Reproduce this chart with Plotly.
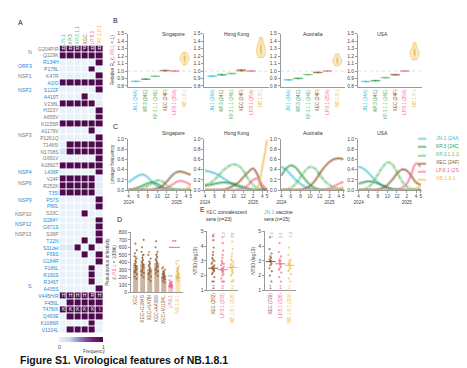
import plotly.graph_objects as go

W, H = 467, 368
FONT = "Arial, 'Liberation Sans', sans-serif"


def fx(x):
    return x / W


def fy(y):
    return 1 - y / H


def rgba(hexc, a):
    h = hexc.lstrip('#')
    return f"rgba({int(h[0:2],16)},{int(h[2:4],16)},{int(h[4:6],16)},{a})"


def span(text, color):
    return f"<span style='color:{color}'>{text}</span>"


# ---------------- colours ----------------
C_JN1, C_KP3, C_KP311, C_XEC, C_LP81, C_NB = "#3fc1d9", "#2e9d4f", "#5cbf6e", "#8f5a2a", "#f26d92", "#eebf5b"
lin_colors = [C_JN1, C_KP3, C_KP311, C_XEC, C_LP81, C_NB]
BLUE, GRAY = "#2a8bd0", "#7a7a7a"

# ---------------- Panel A data ----------------
heat_lineages = ["JN.1", "KP.3", "KP.3.1.1", "XEC", "LP.8.1", "NB.1.8.1"]
mutations = ["G204P/R", "Q229K", "R134H", "P178L", "K47R", "A3/D", "S122F", "A419T",
             "V238L", "H323Y", "A655V", "K1155R", "A1179V", "P1261Q", "T1465I", "N1708S",
             "I1691V", "A1892T", "L438F", "V24F", "R252K", "T35I", "P57S", "P80L", "S33C",
             "D284Y", "G671S", "S36P", "T22N", "S31del", "F59S", "G184R", "F186L", "R190S",
             "R346T", "A435S", "V445H/R", "F456L", "T478/K", "Q493E", "K1086R", "V1104L"]
genes = ["N", "ORF3", "NSP1", "NSP2", "NSP3", "NSP4", "NSP6", "NSP9", "NSP10", "NSP12", "NSP13", "S"]
gene_first_row = [0, 2, 4, 5, 8, 18, 19, 21, 24, 25, 27, 28]
gene_last_row = [1, 3, 4, 7, 17, 18, 20, 23, 24, 26, 27, 41]
gene_is_blue = [False, True, False, True, False, True, False, True, False, True, False, True]
freq = [
    [1, 1, 1, 1, 1, 1],
    [1, 1, 1, 1, 1, 1],
    [0, 0, 0, 0, 0, 1],
    [0, 0, 0, 0, 1, 0],
    [0, 0, 0, 0, 0, 1],
    [1, 1, 1, 1, 1, 1],
    [0, 0, 0, 0, 0, 1],
    [0, 0, 0, 1, 0, 0],
    [1, 1, 1, 1, 1, 0.05],
    [0, 0, 0, 0, 0, 1],
    [0, 0, 0, 0, 0, 1],
    [1, 1, 1, 1, 1, 1],
    [0, 0, 0, 0, 1, 0],
    [0, 0, 0, 0, 0, 1],
    [0, 1, 1, 1, 1, 1],
    [0.15, 1, 1, 1, 1, 1],
    [0, 0, 0, 0, 0, 1],
    [1, 1, 1, 1, 1, 1],
    [0, 0, 0, 0, 0, 1],
    [1, 1, 1, 1, 1, 0.05],
    [1, 1, 1, 1, 1, 0.05],
    [1, 1, 1, 1, 1, 0.05],
    [0, 0, 0, 0, 0, 1],
    [0, 0, 0, 0, 0, 1],
    [0, 0, 0, 1, 0, 0],
    [0, 0, 0, 0, 0, 1],
    [0, 0, 0, 0, 0, 1],
    [0, 0, 0, 0, 0, 1],
    [0, 0, 0, 1, 0, 1],
    [0.1, 0.1, 1, 0, 1, 0],
    [0, 0, 0, 1, 0, 1],
    [0, 0, 0, 0, 0, 1],
    [0, 0, 0, 0, 1, 0],
    [0, 0, 0, 0, 1, 0],
    [0, 0, 0, 0, 1, 0],
    [0, 0, 0, 0, 0, 1],
    [1, 1, 1, 1, 1, 1],
    [0, 1, 1, 1, 1, 1],
    [1, 1, 1, 1, 1, 1],
    [0, 1, 1, 1, 1, 1],
    [0, 0, 0, 0, 1, 0],
    [0, 1, 1, 1, 1, 0],
]
cell_letters_row0 = ["R", "R", "R", "P", "R", "R"]
cell_letters_row36 = ["H", "H", "H", "H", "R", "H"]
cell_letters_row38 = ["K", "K", "K", "K", "K", "I"]

# ---------------- Panel B data ----------------
countries = ["Singapore", "Hong Kong", "Australia", "USA"]
lineage_labels = ["JN.1 (24A)", "KP.3 (24C)", "KP.3.1.1 (24E)", "XEC (24F)", "LP.8.1 (25A)", "NB.1.8.1"]
re_singapore = [[0.857, 0.861, 0.864, 0.866], [0.887, 0.891, 0.893, 0.896], [0.926, 0.93, 0.932, 0.935],
                [1.0, 1.004, 1.007, 1.012], [0.997, 1.0, 1.003], [1.08, 1.13, 1.16, 1.17, 1.18, 1.21, 1.25]]
re_hongkong = [[0.925, 0.93, 0.933, 0.937], [0.944, 0.949, 0.952, 0.956], [0.96, 0.965, 0.968, 0.972],
               [1.0, 1.007, 1.011, 1.018], [0.997, 1.0, 1.003], [1.18, 1.23, 1.26, 1.28, 1.31, 1.36, 1.45]]
re_australia = [[0.877, 0.881, 0.884, 0.887], [0.896, 0.9, 0.903, 0.906], [0.947, 0.951, 0.953, 0.956],
                [0.975, 0.979, 0.982, 0.986], [0.997, 1.0, 1.003], [1.07, 1.1, 1.13, 1.14, 1.15, 1.18, 1.23]]
re_usa = [[0.855, 0.859, 0.862, 0.865], [0.866, 0.87, 0.873, 0.876], [0.906, 0.91, 0.913, 0.916],
          [0.945, 0.949, 0.952, 0.956], [0.997, 1.0, 1.003], [1.15, 1.2, 1.23, 1.24, 1.26, 1.3, 1.38]]
re_all = [re_singapore, re_hongkong, re_australia, re_usa]

# ---------------- Panel C data ----------------
months = ["2024-04-01", "2024-05-01", "2024-06-01", "2024-07-01", "2024-08-01", "2024-09-01", "2024-10-01",
          "2024-11-01", "2024-12-01", "2025-01-01", "2025-02-01", "2025-03-01", "2025-04-01", "2025-05-01"]
freq_singapore = [
    [0.15, 0.22, 0.28, 0.30, 0.25, 0.15, 0.07, 0.03, 0.01, 0, 0, 0, 0, 0],
    [0.0, 0.02, 0.05, 0.09, 0.13, 0.15, 0.12, 0.06, 0.02, 0.01, 0, 0, 0, 0],
    [0, 0, 0.01, 0.03, 0.08, 0.14, 0.19, 0.17, 0.09, 0.03, 0.01, 0, 0, 0],
    [0, 0, 0, 0, 0, 0.01, 0.03, 0.08, 0.17, 0.28, 0.35, 0.36, 0.33, 0.30],
    [0, 0, 0, 0, 0, 0, 0, 0.01, 0.04, 0.10, 0.16, 0.18, 0.15, 0.10],
    [0, 0, 0, 0, 0, 0, 0, 0, 0, 0, 0, 0, 0.02, 0.08],
]
freq_hongkong = [
    [0.38, 0.36, 0.33, 0.28, 0.22, 0.16, 0.10, 0.06, 0.03, 0.01, 0, 0, 0, 0],
    [0.08, 0.10, 0.12, 0.14, 0.15, 0.14, 0.12, 0.09, 0.06, 0.03, 0.01, 0, 0, 0],
    [0.10, 0.13, 0.20, 0.30, 0.40, 0.47, 0.50, 0.47, 0.38, 0.22, 0.10, 0.03, 0.01, 0],
    [0, 0, 0, 0, 0.01, 0.04, 0.09, 0.15, 0.25, 0.35, 0.42, 0.30, 0.05, 0.0],
    [0, 0, 0, 0, 0, 0, 0, 0.01, 0.04, 0.10, 0.20, 0.22, 0.10, 0.01],
    [0, 0, 0, 0, 0, 0, 0, 0, 0, 0, 0, 0.05, 0.45, 0.98],
]
freq_australia = [
    [0.45, 0.40, 0.30, 0.20, 0.12, 0.06, 0.03, 0.01, 0, 0, 0, 0, 0, 0],
    [0.28, 0.42, 0.48, 0.44, 0.32, 0.20, 0.10, 0.04, 0.01, 0, 0, 0, 0, 0],
    [0, 0.01, 0.04, 0.12, 0.25, 0.38, 0.45, 0.42, 0.30, 0.18, 0.10, 0.05, 0.02, 0.01],
    [0, 0, 0, 0, 0.01, 0.03, 0.08, 0.18, 0.32, 0.45, 0.55, 0.60, 0.62, 0.60],
    [0, 0, 0, 0, 0, 0, 0, 0, 0, 0.01, 0.03, 0.07, 0.12, 0.16],
    [0, 0, 0, 0, 0, 0, 0, 0, 0, 0, 0, 0.01, 0.03, 0.06],
]
freq_usa = [
    [0.46, 0.42, 0.34, 0.24, 0.15, 0.08, 0.04, 0.02, 0.01, 0, 0, 0, 0, 0],
    [0.12, 0.15, 0.17, 0.16, 0.13, 0.09, 0.05, 0.02, 0.01, 0, 0, 0, 0, 0],
    [0, 0.01, 0.05, 0.15, 0.30, 0.45, 0.54, 0.50, 0.35, 0.18, 0.07, 0.02, 0, 0],
    [0, 0, 0, 0, 0.01, 0.04, 0.10, 0.20, 0.32, 0.40, 0.38, 0.28, 0.15, 0.10],
    [0, 0, 0, 0, 0, 0, 0, 0, 0.01, 0.04, 0.12, 0.30, 0.52, 0.45],
    [0, 0, 0, 0, 0, 0, 0, 0, 0, 0, 0, 0.01, 0.03, 0.08],
]
freq_all = [freq_singapore, freq_hongkong, freq_australia, freq_usa]
month_tickvals = ["2024-04-01", "2024-06-01", "2024-08-01", "2024-10-01", "2024-12-01",
                  "2025-02-01", "2025-04-01", "2025-05-01"]
month_ticktext = ["4<br>2024", "6", "8", "10", "12", "2<br>2025", "4", "5"]

# ---------------- Panel D data ----------------
d_labels = ["XEC", "XEC+G184S", "XEC+K478I", "XEC+A435S", "XEC+V1104L", "LP.8.1", "NB.1.8.1"]
d_means = [365, 380, 310, 390, 225, 105, 255]
d_sd = [110, 120, 100, 120, 50, 30, 65]
d_points = [
    [180, 210, 240, 270, 290, 310, 330, 350, 360, 380, 400, 420, 450, 480, 520, 560, 650],
    [200, 230, 260, 280, 300, 330, 350, 370, 390, 410, 430, 460, 500, 540, 600, 700],
    [150, 180, 210, 240, 260, 280, 300, 320, 340, 360, 380, 410, 450, 500],
    [220, 250, 280, 300, 330, 350, 380, 400, 420, 440, 470, 500, 540, 600, 680],
    [130, 150, 170, 190, 200, 210, 220, 230, 240, 250, 260, 280, 300, 320],
    [60, 70, 80, 85, 90, 95, 100, 105, 110, 115, 120, 130, 140, 160],
    [150, 170, 190, 210, 230, 240, 250, 260, 270, 290, 310, 330, 350, 380],
]
d_colors = [C_XEC, C_XEC, C_XEC, C_XEC, C_XEC, C_LP81, C_NB]

# ---------------- Panel E data ----------------
e_labels_1 = ["XEC (282)", "LP.8.1 (233)", "NB.1.8.1 (226)"]
e_labels_2 = ["XEC (729)", "LP.8.1 (326)", "NB.1.8.1 (229)"]
e_colors = [C_XEC, C_LP81, C_NB]
e_points_1 = [
    [1.6, 1.6, 1.9, 2.1, 2.2, 2.3, 2.4, 2.4, 2.5, 2.5, 2.6, 2.6, 2.7, 2.8, 2.9, 3.0, 3.1, 3.2, 3.4, 3.6, 3.9, 4.4, 4.7],
    [1.6, 1.6, 1.6, 1.8, 2.0, 2.1, 2.2, 2.3, 2.3, 2.4, 2.5, 2.5, 2.6, 2.7, 2.8, 2.8, 2.9, 3.0, 3.2, 3.4, 3.7, 4.2, 4.6],
    [1.6, 1.6, 1.7, 2.0, 2.1, 2.2, 2.3, 2.4, 2.5, 2.5, 2.6, 2.6, 2.7, 2.7, 2.8, 2.9, 3.0, 3.1, 3.3, 3.5, 3.8, 4.3, 4.7],
]
e_points_2 = [
    [1.6, 2.0, 2.3, 2.5, 2.7, 2.8, 2.9, 3.0, 3.0, 3.1, 3.2, 3.3, 3.5, 3.8, 4.6],
    [1.6, 1.9, 2.2, 2.4, 2.5, 2.6, 2.7, 2.8, 2.9, 3.0, 3.0, 3.1, 3.3, 3.6, 4.2],
    [1.6, 1.8, 2.1, 2.3, 2.4, 2.5, 2.6, 2.7, 2.8, 2.8, 2.9, 3.0, 3.1, 3.4, 3.9],
]
e_medians_1 = [2.5, 2.4, 2.55]
e_medians_2 = [2.95, 2.8, 2.7]
e_fold_1 = ["1.0", "1.2", "1.2"]
e_fold_2 = ["1.0", "2.2", "3.2"]
e_below_1 = ["2", "3", "2"]
e_below_2 = ["1", "1", "1"]

# ---------------- layout geometry (pixels) ----------------
B_X = [(117, 182), (194, 259), (271, 336), (349, 414)]

fig = go.Figure()
annotations = []
shapes = []

AX = dict(showgrid=False, zeroline=False, showline=True, linecolor="#9a9a9a", linewidth=0.8,
          ticks="outside", ticklen=2, tickwidth=0.6, tickcolor="#9a9a9a",
          tickfont=dict(size=5, color="#444"))

# ================= Panel A: heatmap =================
cell_text = [["" for _ in heat_lineages] for _ in mutations]
cell_text[0] = cell_letters_row0
cell_text[36] = cell_letters_row36
cell_text[38] = cell_letters_row38
heat_scale = [[0, "#e9f2f9"], [0.25, "#c4d8ec"], [0.5, "#8c79b8"], [0.75, "#7a1f7a"], [1, "#4d0a4f"]]
fig.add_trace(go.Heatmap(
    z=freq, x=heat_lineages, y=mutations, text=cell_text, texttemplate="%{text}",
    textfont=dict(size=5, color="white"), colorscale=heat_scale, zmin=0, zmax=1,
    xgap=1, ygap=1, xaxis="x", yaxis="y", hoverinfo="skip",
    colorbar=dict(orientation="h", x=fx(70), xanchor="center", y=fy(331), yanchor="top",
                  len=44, lenmode="pixels", thickness=5, xpad=0, ypad=0,
                  tickvals=[0, 1], ticktext=["0", "1"], ticks="", outlinewidth=0,
                  tickfont=dict(size=5, color="#444"))))

mut_color = []
for i in range(len(mutations)):
    for g in range(len(genes)):
        if gene_first_row[g] <= i <= gene_last_row[g]:
            mut_color.append(BLUE if gene_is_blue[g] else GRAY)
fig.update_layout(
    xaxis=dict(domain=[fx(48), fx(92)], anchor="y", side="top", tickangle=-90,
               tickvals=heat_lineages, ticktext=[span(l, c) for l, c in zip(heat_lineages, lin_colors)],
               tickfont=dict(size=5), showline=False, ticks="", showgrid=False, zeroline=False),
    yaxis=dict(domain=[fy(328), fy(35)], anchor="x", autorange="reversed",
               tickvals=mutations, ticktext=[span(m, c) for m, c in zip(mutations, mut_color)],
               tickfont=dict(size=5), showline=False, ticks="", showgrid=False, zeroline=False),
)
for g in range(len(genes)):
    annotations.append(dict(x=fx(22), xref="paper", xanchor="right",
                            y=(gene_first_row[g] + gene_last_row[g]) / 2, yref="y", yanchor="middle",
                            text=genes[g], showarrow=False,
                            font=dict(size=5.2, color=BLUE if gene_is_blue[g] else GRAY)))
annotations.append(dict(x=fx(70), y=fy(342), xref="paper", yref="paper", text="Frequency",
                        showarrow=False, font=dict(size=4.6, color="#444"), yanchor="top"))

# ================= Panel B: violins =================
for ci, country in enumerate(countries):
    n = 2 + ci
    for li in range(6):
        vals = re_all[ci][li]
        fig.add_trace(go.Violin(
            x=[lineage_labels[li]] * len(vals), y=vals, xaxis=f"x{n}", yaxis=f"y{n}",
            line=dict(color=lin_colors[li], width=0.6), fillcolor=rgba(lin_colors[li], 0.35),
            width=0.95, spanmode="hard", points=False, scalemode="width",
            box=dict(visible=True, width=0.15, fillcolor=lin_colors[li], line=dict(width=0.4, color=lin_colors[li])),
            showlegend=False, hoverinfo="skip"))
    x0, x1 = B_X[ci]
    fig.update_layout(**{
        f"xaxis{n}": dict(AX, domain=[fx(x0), fx(x1)], anchor=f"y{n}", type="category",
                          categoryorder="array", categoryarray=lineage_labels,
                          tickvals=lineage_labels, ticktext=[span(l, c) for l, c in zip(lineage_labels, lin_colors)],
                          tickangle=-90, ticks="", tickfont=dict(size=4.6)),
        f"yaxis{n}": dict(AX, domain=[fy(77), fy(23)], anchor=f"x{n}", range=[0.79, 1.5], dtick=0.1,
                          tickformat=".1f",
                          title=dict(text="Relative R<sub>e</sub> (" + span("LP.8.1", C_LP81) + " = 1)",
                                     font=dict(size=4.8), standoff=2) if ci == 0 else None),
    })
    shapes.append(dict(type="line", xref=f"x{n} domain", yref=f"y{n}", x0=0, x1=1, y0=1, y1=1,
                       line=dict(color="#c8c8c8", width=0.6, dash="dot"), layer="below"))
    annotations.append(dict(x=fx((x0 + x1) / 2), y=fy(18), xref="paper", yref="paper", text=country,
                            showarrow=False, font=dict(size=5, color="#333")))

# ================= Panel C: lineage frequency =================
for ci, country in enumerate(countries):
    n = 6 + ci
    for li in range(6):
        vals = freq_all[ci][li]
        fig.add_trace(go.Scatter(x=months, y=vals, xaxis=f"x{n}", yaxis=f"y{n}", mode="lines",
                                 line=dict(color=rgba(lin_colors[li], 0.35), width=3.2, shape="spline"),
                                 showlegend=False, hoverinfo="skip"))
        fig.add_trace(go.Scatter(x=months, y=vals, xaxis=f"x{n}", yaxis=f"y{n}", mode="lines",
                                 line=dict(color=lin_colors[li], width=0.7, shape="spline",
                                           dash="dot" if li == 2 else "solid"),
                                 showlegend=False, hoverinfo="skip"))
    x0, x1 = B_X[ci]
    fig.update_layout(**{
        f"xaxis{n}": dict(AX, domain=[fx(x0), fx(x1)], anchor=f"y{n}", type="date",
                          range=["2024-03-28", "2025-05-12"], tickvals=month_tickvals, ticktext=month_ticktext,
                          tickangle=0, tickfont=dict(size=4.6)),
        f"yaxis{n}": dict(AX, domain=[fy(182), fy(130)], anchor=f"x{n}", range=[0, 1.0], dtick=0.2,
                          tickformat=".1f",
                          title=dict(text="Lineage frequency", font=dict(size=4.8), standoff=2) if ci == 0 else None),
    })
    annotations.append(dict(x=fx((x0 + x1) / 2), y=fy(124), xref="paper", yref="paper", text=country,
                            showarrow=False, font=dict(size=5, color="#333")))

# custom legend for panel C
for li in range(6):
    yy = fy(129 + 8.2 * li)
    annotations.append(dict(x=fx(420), y=yy, xref="paper", yref="paper", text="▬", showarrow=False,
                            font=dict(size=8, color=rgba(lin_colors[li], 0.55))))
    annotations.append(dict(x=fx(426), y=yy, xref="paper", yref="paper", xanchor="left",
                            text=lineage_labels[li], showarrow=False,
                            font=dict(size=5, color=lin_colors[li])))

# ================= Panel D: bars =================
fig.add_trace(go.Bar(x=d_labels, y=d_means, xaxis="x10", yaxis="y10", width=0.72,
                     marker=dict(color=[rgba(c, 0.45) for c in d_colors], line=dict(width=0)),
                     error_y=dict(type="data", array=d_sd, color="#6a4a30", thickness=0.5, width=1.2),
                     showlegend=False, hoverinfo="skip"))
for bi in range(len(d_labels)):
    pts = d_points[bi]
    fig.add_trace(go.Box(x=[d_labels[bi]] * len(pts), y=pts, xaxis="x10", yaxis="y10",
                         boxpoints="all", jitter=0.8, pointpos=0, width=0.6,
                         fillcolor="rgba(0,0,0,0)", line=dict(width=0, color="rgba(0,0,0,0)"),
                         marker=dict(size=2.2, color=rgba(d_colors[bi], 0.75), line=dict(width=0)),
                         showlegend=False, hoverinfo="skip"))
fig.update_layout(
    xaxis10=dict(AX, domain=[fx(120), fx(172)], anchor="y10", type="category",
                 tickvals=d_labels, ticktext=[span(l, c) for l, c in zip(d_labels, d_colors)],
                 tickangle=-90, ticks="", tickfont=dict(size=4.8)),
    yaxis10=dict(AX, domain=[fy(286), fy(225)], anchor="x10", range=[0, 800], dtick=100,
                 title=dict(text="Pseudovirus infectivity<br>(" + span("LP.8.1", C_LP81) + " = 100%)",
                            font=dict(size=4.8), standoff=2)),
)
d_star_x = ["XEC+K478I", "XEC+V1104L", "LP.8.1", "NB.1.8.1"]
d_star_y = [520, 330, 200, 410]
d_star_text = ["*", "*", "**", "**"]
d_star_color = [C_XEC, C_XEC, C_LP81, C_NB]
for sx, sy, st, sc in zip(d_star_x, d_star_y, d_star_text, d_star_color):
    annotations.append(dict(x=sx, y=sy, xref="x10", yref="y10", text=st, showarrow=False,
                            font=dict(size=6, color=sc)))
shapes.append(dict(type="line", xref="x10", yref="y10", x0=4.7, x1=6.3, y0=600, y1=600,
                   line=dict(color="#e8304a", width=0.7)))
annotations.append(dict(x=5.5, y=600, xref="x10", yref="y10", yanchor="bottom", text="**",
                        showarrow=False, font=dict(size=6, color="#e8304a")))

# ================= Panel E: neutralisation =================
E_X = [(197, 228), (255, 286)]
e_titles = [span("XEC", C_XEC) + " convalescent<br>sera (n=23)",
            span("JN.1", C_JN1) + " vaccine<br>sera (n=15)"]
for ei, (labels, pts_all, meds, folds, below) in enumerate(
        [(e_labels_1, e_points_1, e_medians_1, e_fold_1, e_below_1),
         (e_labels_2, e_points_2, e_medians_2, e_fold_2, e_below_2)]):
    n = 11 + ei
    for k in range(3):
        pts = pts_all[k]
        fig.add_trace(go.Box(x=[labels[k]] * len(pts), y=pts, xaxis=f"x{n}", yaxis=f"y{n}",
                             boxpoints="all", jitter=0.7, pointpos=0, width=0.55,
                             fillcolor="rgba(0,0,0,0)", line=dict(width=0, color="rgba(0,0,0,0)"),
                             marker=dict(size=2.2, color=rgba(e_colors[k], 0.75), line=dict(width=0)),
                             showlegend=False, hoverinfo="skip"))
    fig.add_trace(go.Scatter(x=labels, y=meds, xaxis=f"x{n}", yaxis=f"y{n}", mode="markers",
                             marker=dict(symbol="line-ew", size=7, line=dict(width=1, color=e_colors)),
                             showlegend=False, hoverinfo="skip"))
    x0, x1 = E_X[ei]
    fig.update_layout(**{
        f"xaxis{n}": dict(AX, domain=[fx(x0), fx(x1)], anchor=f"y{n}", type="category",
                          tickvals=labels, ticktext=[span(l, c) for l, c in zip(labels, e_colors)],
                          tickangle=-90, ticks="", tickfont=dict(size=4.6)),
        f"yaxis{n}": dict(AX, domain=[fy(284), fy(224)], anchor=f"x{n}", range=[1, 5], dtick=1,
                          title=dict(text="NT50 (log10)", font=dict(size=4.8), standoff=2)),
    })
    annotations.append(dict(x=fx(x0 - 3), y=fy(199), xref="paper", yref="paper", xanchor="left",
                            yanchor="top", align="left", text=e_titles[ei], showarrow=False,
                            font=dict(size=5, color="#333")))
    for k in range(3):
        annotations.append(dict(x=k, y=4.75, xref=f"x{n}", yref=f"y{n}", text=folds[k], textangle=-90,
                                showarrow=False, font=dict(size=4, color="#999")))
        annotations.append(dict(x=k, y=1.25, xref=f"x{n}", yref=f"y{n}", text=below[k],
                                showarrow=False, font=dict(size=5, color=e_colors[k])))

# ================= panel letters & caption =================
for letter, (lx, ly) in zip("ABCDE", [(4, 12), (100, 10), (100, 117), (104, 212), (188, 202)]):
    annotations.append(dict(x=fx(lx), y=fy(ly), xref="paper", yref="paper", xanchor="left",
                            yanchor="middle", text=letter, showarrow=False,
                            font=dict(size=7, color="#222")))
annotations.append(dict(x=fx(6), y=fy(355), xref="paper", yref="paper", xanchor="left", yanchor="middle",
                        text="<b>Figure S1. Virological features of NB.1.8.1</b>", showarrow=False,
                        font=dict(size=10.5, color="#111")))

fig.update_layout(width=W, height=H, autosize=False, margin=dict(l=0, r=0, t=0, b=0),
                  paper_bgcolor="white", plot_bgcolor="white",
                  font=dict(family=FONT, size=5, color="#444"), showlegend=False,
                  violinmode="overlay", boxmode="overlay",
                  annotations=annotations, shapes=shapes)

fig.write_html("out.html")
